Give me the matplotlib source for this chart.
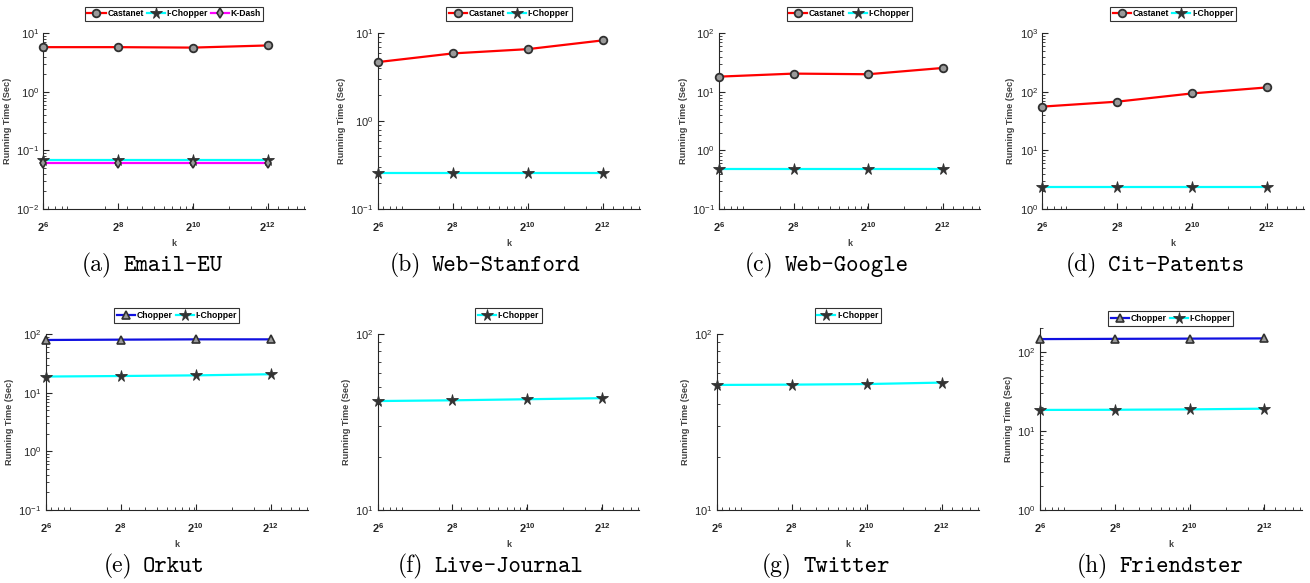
import matplotlib
matplotlib.use("Agg")
import matplotlib.pyplot as plt
from matplotlib.ticker import FixedLocator, LogLocator, NullFormatter
from matplotlib.offsetbox import TextArea, HPacker, AnnotationBbox

# Data.
k_values = [64, 256, 1024, 4096]
k_labels = ["$2^{6}$", "$2^{8}$", "$2^{10}$", "$2^{12}$"]

email_castanet = [5.8, 5.8, 5.7, 6.2]
email_ichopper = [0.068, 0.068, 0.068, 0.068]
email_kdash = [0.061, 0.061, 0.061, 0.061]

stanford_castanet = [4.7, 5.9, 6.6, 8.3]
stanford_ichopper = [0.256, 0.256, 0.256, 0.256]

google_castanet = [18.2, 20.5, 20.0, 25.6]
google_ichopper = [0.48, 0.48, 0.48, 0.48]

patents_castanet = [56, 68, 94, 119]
patents_ichopper = [2.4, 2.4, 2.4, 2.4]

orkut_chopper = [80, 81, 82, 82]
orkut_ichopper = [19.0, 19.4, 19.9, 20.8]

livejournal_ichopper = [41.7, 42.1, 42.7, 43.3]
twitter_ichopper = [51.5, 51.7, 52.1, 53.1]

friendster_chopper = [146, 147, 148, 149]
friendster_ichopper = [18.5, 18.6, 18.8, 19.2]

plt.rcParams['mathtext.fontset'] = 'custom'
plt.rcParams['mathtext.rm'] = 'Liberation Sans:bold'
plt.rcParams['mathtext.it'] = 'Liberation Sans:bold'
plt.rcParams['mathtext.bf'] = 'Liberation Sans:bold'
plt.rcParams['font.family'] = ['Liberation Sans', 'DejaVu Sans']

W, H = 1310, 583
TXT = '#404040'

# Series styles.
STYLES = {
    'Castanet': dict(color='red', marker='o', ms=5.5, mfc='#9a9a9a', mec='#303030', mew=1.3),
    'I-Chopper': dict(color='cyan', marker='*', ms=8.5, mfc='#333333', mec='#333333', mew=0.6),
    'K-Dash': dict(color='magenta', marker='d', ms=5.5, mfc='#9a9a9a', mec='#303030', mew=1.2),
    'Chopper': dict(color='#1010e0', marker='^', ms=5.5, mfc='#9a9a9a', mec='#303030', mew=1.2),
}


def px_axes(fig, left, top, right, bottom):
    # Axes from pixel box (top-left origin).
    return fig.add_axes([left / W, 1 - bottom / H, (right - left) / W, (bottom - top) / H])


def style_axes(ax, ylim):
    ax.set_xscale('log')
    ax.set_yscale('log')
    ax.set_xlim(64, 8192)
    ax.set_ylim(*ylim)
    for s in ['top', 'right']:
        ax.spines[s].set_visible(False)
    for s in ['left', 'bottom']:
        ax.spines[s].set_color('#262626')
        ax.spines[s].set_linewidth(0.8)
    ax.xaxis.set_major_locator(FixedLocator(k_values))
    ax.set_xticklabels(k_labels)
    ax.xaxis.set_minor_locator(LogLocator(base=10, subs=range(1, 10)))
    ax.xaxis.set_minor_formatter(NullFormatter())
    ax.yaxis.set_major_locator(LogLocator(base=10, numticks=10))
    ax.yaxis.set_minor_locator(LogLocator(base=10, subs=range(2, 10), numticks=10))
    ax.yaxis.set_minor_formatter(NullFormatter())
    ax.tick_params(which='major', direction='in', length=4.5, width=0.8,
                   labelsize=8, colors='#262626')
    ax.tick_params(axis='x', which='major', pad=8)
    ax.tick_params(axis='y', which='major', pad=3)
    ax.tick_params(which='minor', direction='in', length=2.5, width=0.6, colors='#262626')
    ax.set_xlabel('k', fontsize=6.5, fontweight='bold', color=TXT, labelpad=4)
    ax.set_ylabel('Running Time (Sec)', fontsize=6.6, fontweight='bold', color=TXT, labelpad=3)


def add_legend(fig, ax, series, center_y):
    box = ax.get_position()
    leg = ax.legend(handles=series, loc='center', ncol=len(series),
                    bbox_to_anchor=(box.x0 + box.width / 2, 1 - center_y / H),
                    bbox_transform=fig.transFigure,
                    prop=dict(weight='bold', size=6.2), frameon=True, fancybox=False,
                    edgecolor='black', borderpad=0.3, handlelength=2.1,
                    handletextpad=0.2, columnspacing=0.35, borderaxespad=0)
    leg.get_frame().set_linewidth(0.8)


def add_caption(fig, tag, name, cx, cy):
    t1 = TextArea(tag, textprops=dict(family='cmr10', size=17, color='black'))
    t2 = TextArea(name, textprops=dict(family='cmtt10', size=17, color='black'))
    pack = HPacker(children=[t1, t2], align='baseline', pad=0, sep=8)
    ab = AnnotationBbox(pack, (cx / W, 1 - cy / H), xycoords='figure fraction',
                        box_alignment=(0.5, 0.5), frameon=False)
    fig.add_artist(ab)


fig = plt.figure(figsize=(W / 100, H / 100), dpi=100)

panels = [
    # (box, ylim, series, legend y, caption tag, caption name, caption x, caption y)
    ((43.3, 33.3, 305, 209), (1e-2, 1e1),
     [('Castanet', email_castanet), ('I-Chopper', email_ichopper), ('K-Dash', email_kdash)],
     14, '(a)', 'Email-EU', 152, 265),
    ((377.7, 33.3, 640, 209), (1e-1, 1e1),
     [('Castanet', stanford_castanet), ('I-Chopper', stanford_ichopper)],
     14, '(b)', 'Web-Stanford', 485, 265),
    ((719, 33.3, 980, 209), (1e-1, 1e2),
     [('Castanet', google_castanet), ('I-Chopper', google_ichopper)],
     14, '(c)', 'Web-Google', 827, 265),
    ((1042.3, 33.3, 1304, 209), (1e0, 1e3),
     [('Castanet', patents_castanet), ('I-Chopper', patents_ichopper)],
     14, '(d)', 'Cit-Patents', 1155, 265),
    ((45.7, 334.3, 308, 510), (1e-1, 1e2),
     [('Chopper', orkut_chopper), ('I-Chopper', orkut_ichopper)],
     315.5, '(e)', 'Orkut', 154, 566),
    ((377.7, 334.3, 639.3, 510), (1e1, 1e2),
     [('I-Chopper', livejournal_ichopper)],
     315.5, '(f)', 'Live-Journal', 490, 566),
    ((716.7, 334.3, 979, 510), (1e1, 1e2),
     [('I-Chopper', twitter_ichopper)],
     315.5, '(g)', 'Twitter', 826, 566),
    ((1040, 328.3, 1301.7, 510), (1e0, 2e2),
     [('Chopper', friendster_chopper), ('I-Chopper', friendster_ichopper)],
     318.5, '(h)', 'Friendster', 1160, 566),
]

for box, ylim, series, leg_y, tag, name, cap_x, cap_y in panels:
    ax = px_axes(fig, *box)
    handles = []
    for label, values in series:
        line, = ax.plot(k_values, values, lw=1.6, label=label, clip_on=False,
                        zorder=3, **STYLES[label])
        handles.append(line)
    style_axes(ax, ylim)
    add_legend(fig, ax, handles, leg_y)
    add_caption(fig, tag, name, cap_x, cap_y)

fig.savefig('out.png', dpi=100)
